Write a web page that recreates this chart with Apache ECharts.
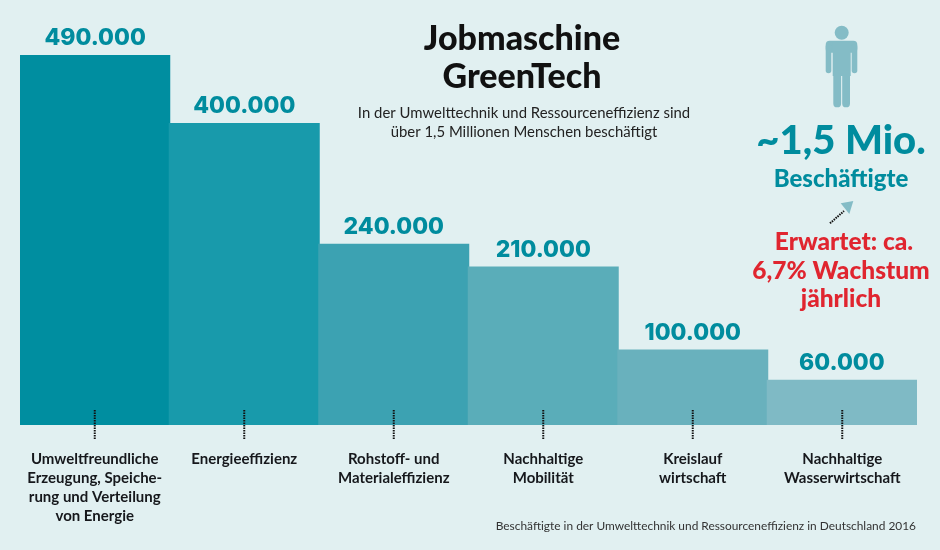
<!DOCTYPE html>
<html lang="de">
<head>
    <meta charset="UTF-8">
    <title>Jobmaschine GreenTech</title>
    <style>
        html, body { margin: 0; padding: 0; background: #e1f0f1; }
        #main { width: 940px; height: 550px; }
    </style>
</head>
<body>
<div id="main"></div>
<script src="https://cdn.jsdelivr.net/npm/echarts@6/dist/echarts.min.js"></script>
<script>
    const categories = [
        'Umweltfreundliche\nErzeugung, Speiche-\nrung und Verteilung\nvon Energie',
        'Energieeffizienz',
        'Rohstoff- und\nMaterialeffizienz',
        'Nachhaltige\nMobilität',
        'Kreislauf\nwirtschaft',
        'Nachhaltige\nWasserwirtschaft'
    ];
    const employees = [490000, 400000, 240000, 210000, 100000, 60000];
    const barColors = ['#008ea0', '#189aab', '#3ca2b2', '#5aadb9', '#69b1bd', '#7fbac5'];

    const teal = '#008c9e';
    const red = '#e0252f';
    const iconColor = '#84bcc6';
    const font = 'Lato';

    const myChart = echarts.init(document.getElementById('main'));

    function label(x, y, text, size, color, weight, align) {
        return {
            type: 'text', x: x, y: y,
            style: {
                text: text, fontFamily: font, fontSize: size, fontWeight: weight || 'bold',
                fill: color, align: align || 'center', verticalAlign: 'middle'
            }
        };
    }
    function box(x, y, width, height, r) {
        return { type: 'rect', shape: { x: x, y: y, width: width, height: height, r: r }, style: { fill: iconColor } };
    }

    myChart.setOption({
        backgroundColor: '#e1f0f1',
        animation: false,
        grid: { left: 20, top: 55, width: 897, height: 370 },
        xAxis: {
            type: 'category',
            data: categories,
            axisLine: { show: false },
            axisTick: { show: false },
            axisLabel: {
                interval: 0, margin: 25, lineHeight: 19, color: '#16181c',
                fontFamily: font, fontSize: 15, fontWeight: 'bold', align: 'center'
            }
        },
        yAxis: { type: 'value', min: 0, max: 490000, show: false },
        series: [
            {
                type: 'bar',
                barWidth: '101%',
                data: employees.map((v, i) => ({ value: v, itemStyle: { color: barColors[i] } })),
                label: {
                    show: true, position: 'top', distance: 5, color: teal,
                    fontFamily: 'Inter', fontSize: 23, fontWeight: 800,
                    formatter: p => String(p.value).replace(/000$/, '.000')
                }
            },
            {
                // gepunktete Verbindung vom Balken zur Beschriftung
                type: 'custom',
                clip: false,
                silent: true,
                z: 5,
                data: categories.map((c, i) => i),
                renderItem: function (params, api) {
                    const p = api.coord([api.value(0), 0]);
                    return {
                        type: 'line',
                        shape: { x1: p[0], y1: p[1] - 15, x2: p[0], y2: p[1] + 14 },
                        style: { stroke: '#111', lineWidth: 2, lineDash: [1.5, 1] }
                    };
                }
            }
        ],
        graphic: [
            label(522, 39, 'Jobmaschine', 34, '#111', 900),
            label(522, 77, 'GreenTech', 34, '#111', 900),
            label(524, 113, 'In der Umwelttechnik und Ressourceneffizienz sind', 14.9, '#222', 'normal'),
            label(524, 132, 'über 1,5 Millionen Menschen beschäftigt', 14.9, '#222', 'normal'),
            label(916, 526, 'Beschäftigte in der Umwelttechnik und Ressourceneffizienz in Deutschland 2016', 11.9, '#333', 'normal', 'right'),

            { type: 'circle', shape: { cx: 841.7, cy: 32.7, r: 7 }, style: { fill: iconColor } },
            box(825.7, 40.7, 31.6, 12, 4),
            box(825.7, 44, 5.6, 29.3, 2.8),
            box(851.7, 44, 5.6, 29.3, 2.8),
            box(832.7, 42, 18, 34, 0),
            box(833.3, 70, 7.8, 37.3, 3.9),
            box(842.2, 70, 7.8, 37.3, 3.9),

            label(841, 141, '~1,5 Mio.', 40, teal, 900),
            label(841, 179, 'Beschäftigte', 24, teal, 900),

            { type: 'polygon', shape: { points: [[853.3, 201], [840.7, 203.3], [849.3, 214]] }, style: { fill: iconColor } },
            { type: 'line', shape: { x1: 830, y1: 223.3, x2: 844, y2: 211 }, style: { stroke: '#111', lineWidth: 2, lineDash: [1.5, 1] } },

            label(844, 242, 'Erwartet: ca.', 24.5, red, 900),
            label(841, 271, '6,7% Wachstum', 24.5, red, 900),
            label(841, 299, 'jährlich', 24.5, red, 900)
        ]
    });
</script>
</body>
</html>
